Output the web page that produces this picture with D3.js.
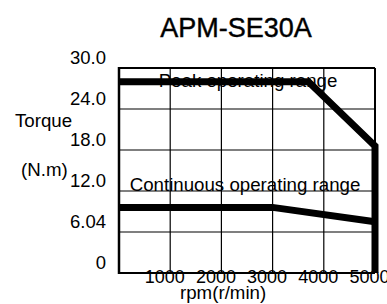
<!DOCTYPE html>
<html lang='en'>
  <head>
    <meta charset='utf-8'>
    <title>APM-SE30A</title>
    <script type='text/javascript' src='https://cdn.jsdelivr.net/npm/d3@7/dist/d3.min.js'></script>
    <style type='text/css'>
      body { margin: 0; background: white; }
      svg { display: block; background-color: white; font-family: 'Liberation Sans', Arial, sans-serif; }
    </style>
  </head>
  <body>
    <div id='chart'></div>
    <script type='text/javascript'>

    // data
    var rpmTicks = [1000, 2000, 3000, 4000, 5000];
    var torqueTicks = [0, 6, 12, 18, 24, 30];
    var torqueLabels = ['0', '6.04', '12.0', '18.0', '24.0', '30.0'];
    var peakRpm = [0, 3700, 5000, 5000];
    var peakTorque = [28.0, 28.0, 18.6, 0];
    var contRpm = [0, 3000, 5000];
    var contTorque = [9.6, 9.6, 7.5];

    var W = 387, H = 304;
    var margin = { top: 68, right: 12, bottom: 31, left: 119 };

    var svg = d3.select('#chart').append('svg')
        .attr('width', W)
        .attr('height', H);

    var x = d3.scaleLinear().domain([0, 5000]).range([margin.left, W - margin.right]);
    var y = d3.scaleLinear().domain([0, 30]).range([H - margin.bottom, margin.top]);

    // grid
    svg.append('g').selectAll('line')
      .data(rpmTicks)
      .enter().append('line')
      .attr('x1', function(d) { return x(d); })
      .attr('x2', function(d) { return x(d); })
      .attr('y1', y(0)).attr('y2', y(30))
      .attr('stroke', '#000').attr('stroke-width', 1.2);

    svg.append('g').selectAll('line')
      .data(torqueTicks)
      .enter().append('line')
      .attr('x1', x(0)).attr('x2', x(5000))
      .attr('y1', function(d) { return y(d); })
      .attr('y2', function(d) { return y(d); })
      .attr('stroke', '#000').attr('stroke-width', 1.2);

    // frame
    svg.append('line').attr('x1', x(0)).attr('x2', x(5000)).attr('y1', y(30)).attr('y2', y(30))
      .attr('stroke', '#000').attr('stroke-width', 2);
    svg.append('line').attr('x1', x(5000)).attr('x2', x(5000)).attr('y1', y(30)).attr('y2', y(0))
      .attr('stroke', '#000').attr('stroke-width', 2);
    svg.append('line').attr('x1', x(0)).attr('x2', x(0)).attr('y1', y(30) - 1).attr('y2', y(0) + 1)
      .attr('stroke', '#000').attr('stroke-width', 2.5);
    svg.append('line').attr('x1', x(0) - 1).attr('x2', x(5000)).attr('y1', y(0)).attr('y2', y(0))
      .attr('stroke', '#000').attr('stroke-width', 2);

    // axes (labels only)
    var yAxis = d3.axisLeft(y)
      .tickValues(torqueTicks)
      .tickFormat(function(d, i) { return torqueLabels[i]; })
      .tickSize(0).tickPadding(13);
    var gy = svg.append('g')
      .attr('transform', 'translate(' + x(0) + ',0)')
      .call(yAxis);
    gy.select('.domain').remove();
    gy.selectAll('text')
      .attr('dy', '-5px')
      .style('font-family', "'Liberation Sans', Arial, sans-serif")
      .style('font-size', '18.5px')
      .attr('fill', '#000');

    var xAxis = d3.axisBottom(x)
      .tickValues(rpmTicks)
      .tickFormat(d3.format('d'))
      .tickSize(0);
    var gx = svg.append('g')
      .attr('transform', 'translate(0,' + y(0) + ')')
      .call(xAxis);
    gx.select('.domain').remove();
    gx.selectAll('text')
      .attr('y', 10).attr('dy', 0).attr('dx', -6)
      .style('font-family', "'Liberation Sans', Arial, sans-serif")
      .style('font-size', '18px')
      .attr('fill', '#000');

    // range labels
    svg.append('text')
      .attr('x', 248).attr('y', 87)
      .attr('text-anchor', 'middle')
      .style('font-size', '18.7px')
      .text('Peak operating range');

    svg.append('text')
      .attr('x', 245).attr('y', 191)
      .attr('text-anchor', 'middle')
      .style('font-size', '18.7px')
      .text('Continuous operating range');

    // curves
    var line = d3.line()
      .x(function(d) { return x(d[0]); })
      .y(function(d) { return y(d[1]); });

    svg.append('path')
      .datum(d3.zip(peakRpm, peakTorque))
      .attr('d', line)
      .attr('fill', 'none')
      .attr('stroke', '#000')
      .attr('stroke-width', 7);

    svg.append('path')
      .datum(d3.zip(contRpm, contTorque))
      .attr('d', line)
      .attr('fill', 'none')
      .attr('stroke', '#000')
      .attr('stroke-width', 7);

    // titles
    svg.append('text')
      .attr('x', 236).attr('y', 37)
      .attr('text-anchor', 'middle')
      .style('font-size', '27px')
      .style('stroke', '#000').style('stroke-width', 0.4)
      .text('APM-SE30A');

    svg.append('text')
      .attr('x', 15).attr('y', 127)
      .style('font-size', '18.7px')
      .text('Torque');

    svg.append('text')
      .attr('x', 21).attr('y', 176)
      .style('font-size', '18.7px')
      .text('(N.m)');

    svg.append('text')
      .attr('x', 180).attr('y', 299)
      .style('font-size', '18.7px')
      .text('rpm(r/min)');

    </script>
  </body>
</html>
